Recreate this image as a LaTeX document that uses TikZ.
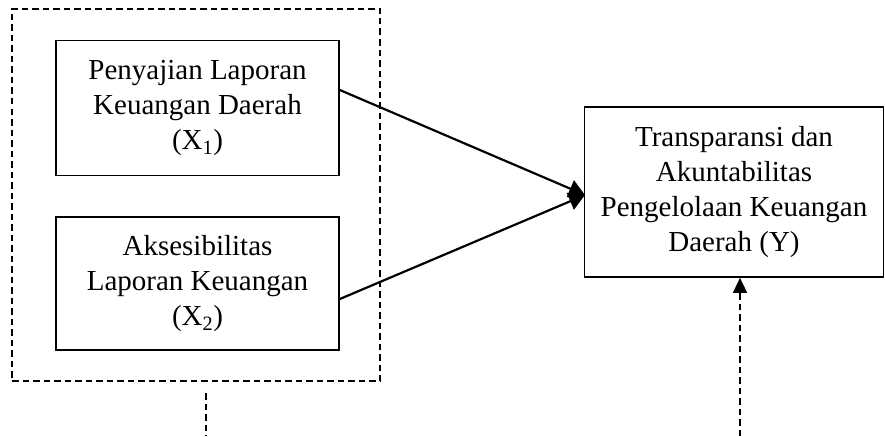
\documentclass[tikz,border=0pt]{standalone}
\usepackage{fontspec}
\setmainfont{Liberation Serif}
\usetikzlibrary{arrows.meta}
\tikzset{
  varbox/.style={draw, line width=1.7pt, inner sep=0pt, align=center,
    font=\fontsize{29}{35}\selectfont},
  dashline/.style={line width=1.6pt, dash pattern=on 6.5pt off 4pt},
  conn/.style={line width=2.2pt, -{Triangle[length=16pt,width=18pt]}}
}
\begin{document}
\begin{tikzpicture}[x=1pt,y=-1pt]
\useasboundingbox (0,0) rectangle (885,436);
\node[draw, dashline, minimum width=368pt, minimum height=372pt] (grp) at (196,195) {};
\node[varbox, minimum width=283pt, minimum height=135pt] (x1) at (197.5,108)
  {Penyajian Laporan\\Keuangan Daerah\\(X\textsubscript{1})};
\node[varbox, minimum width=283pt, minimum height=133pt] (x2) at (197.5,283.5)
  {Aksesibilitas\\Laporan Keuangan\\(X\textsubscript{2})};
\node[varbox, minimum width=299pt, minimum height=170pt] (y) at (734,192)
  {Transparansi dan\\Akuntabilitas\\Pengelolaan Keuangan\\Daerah (Y)};
\coordinate (t) at (585,195);
\draw[conn] (x1.east |- 0,90) -- (t);
\draw[conn] (x2.east |- 0,299) -- (t);
\coordinate (l1) at (206,393);
\coordinate (l2) at (206,436);
\draw[dashline] (l1) -- (l2);
\coordinate (r1) at (740,436);
\draw[dashline, -{Triangle[length=15pt,width=14pt]}] (r1) -- (r1 |- y.south);
\end{tikzpicture}
\end{document}
